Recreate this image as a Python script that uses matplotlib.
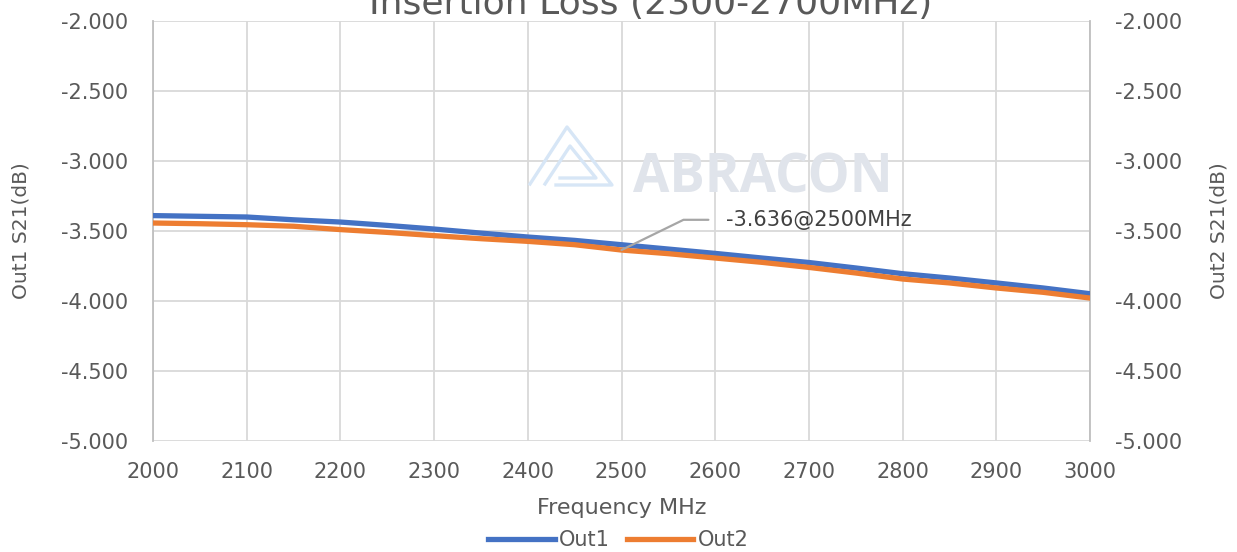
import matplotlib
matplotlib.use("Agg")
import matplotlib.pyplot as plt
from matplotlib.lines import Line2D

plt.rcParams['font.family'] = ['DejaVu Sans']

freq = [2000, 2050, 2100, 2150, 2200, 2250, 2300, 2350, 2400, 2450, 2500,
        2550, 2600, 2650, 2700, 2750, 2800, 2850, 2900, 2950, 3000]
out1 = [-3.390, -3.395, -3.400, -3.420, -3.436, -3.460, -3.486, -3.515, -3.543, -3.567, -3.598,
        -3.629, -3.660, -3.693, -3.725, -3.764, -3.805, -3.836, -3.871, -3.907, -3.948]
out2 = [-3.443, -3.448, -3.455, -3.466, -3.490, -3.510, -3.533, -3.555, -3.574, -3.598, -3.636,
        -3.662, -3.693, -3.724, -3.760, -3.800, -3.843, -3.871, -3.907, -3.938, -3.979]
xticks = [2000, 2100, 2200, 2300, 2400, 2500, 2600, 2700, 2800, 2900, 3000]
yticks = [-5.0, -4.5, -4.0, -3.5, -3.0, -2.5, -2.0]
title = "Insertion Loss (2300-2700MHz)"
annot_text = "-3.636@2500MHz"
annot_x, annot_y = 2500, -3.636

W, H = 1237, 552
fig = plt.figure(figsize=(W / 100, H / 100), dpi=100)
ax = fig.add_axes([153 / W, 1 - 441 / H, (1090 - 153) / W, (441 - 21) / H])

txt = '#595959'
grid = '#d9d9d9'
blue = '#4472C4'
orange = '#ED7D31'

ax.set_xlim(2000, 3000)
ax.set_ylim(-5.0, -2.0)
ax.set_xticks(xticks)
ax.set_yticks(yticks)
ax.set_yticklabels([f"{v:.3f}" for v in yticks])
ax.grid(True, color=grid, linewidth=1.3)
ax.set_axisbelow(True)
for s in ['top', 'bottom']:
    ax.spines[s].set_visible(False)
for s in ['left', 'right']:
    ax.spines[s].set_color('#bfbfbf')
    ax.spines[s].set_linewidth(1.3)
ax.tick_params(axis='both', length=0, labelsize=15, colors=txt)
ax.tick_params(axis='y', pad=18)
ax.tick_params(axis='x', pad=15)

ax2 = ax.twinx()
ax2.set_ylim(-5.0, -2.0)
ax2.set_yticks(yticks)
ax2.set_yticklabels([f"{v:.3f}" for v in yticks])
ax2.tick_params(axis='y', length=0, labelsize=15, colors=txt, pad=18)
for s in ax2.spines.values():
    s.set_visible(False)

# watermark
ax.text(0.651, 0.626, "ABRACON", transform=ax.transAxes, fontsize=38, fontweight='bold',
        family='Open Sans', color='#e0e4eb', ha='center', va='center', zorder=1)
def fpx(pts):
    return [p[0] / W for p in pts], [1 - p[1] / H for p in pts]
logo_col = '#d7e6f6'
for pts in [[(530, 184), (567, 127), (612, 185), (556, 185)],
            [(545, 184), (570, 146), (596, 178), (560, 178)]]:
    xs, ys = fpx(pts)
    fig.add_artist(Line2D(xs, ys, color=logo_col, linewidth=2.4, zorder=1))

l1, = ax.plot(freq, out1, color=blue, linewidth=3.8, label='Out1', zorder=3)
l2, = ax.plot(freq, out2, color=orange, linewidth=3.8, label='Out2', zorder=4)

# annotation leader
ax.annotate(annot_text, xy=(annot_x, annot_y), xytext=(2612, -3.42),
            textcoords='data', fontsize=15, color='#404040', va='center', ha='left',
            arrowprops=dict(arrowstyle='-', color='#a6a6a6', linewidth=1.6,
                            connectionstyle='angle,angleA=0,angleB=26,rad=0',
                            shrinkA=11, shrinkB=0), zorder=5)

ax.set_xlabel("Frequency MHz", fontsize=16, color=txt, labelpad=12)
ax.set_ylabel("Out1 S21(dB)", fontsize=14.5, color=txt)
ax2.set_ylabel("Out2 S21(dB)", fontsize=14.5, color=txt)
ax.yaxis.set_label_coords(-0.131, 0.5)
ax2.yaxis.set_label_coords(1.128, 0.5)

fig.text(651 / W, 1 - 14 / H, title, fontsize=26, color=txt, ha='center', va='baseline')

fig.legend(handles=[l1, l2], loc='center', bbox_to_anchor=(0.5, 1 - 540 / H), ncol=2,
           frameon=False, fontsize=15, handlelength=3.2, handletextpad=0.2,
           columnspacing=0.8, labelcolor=txt)

fig.savefig("out.png", dpi=100)
